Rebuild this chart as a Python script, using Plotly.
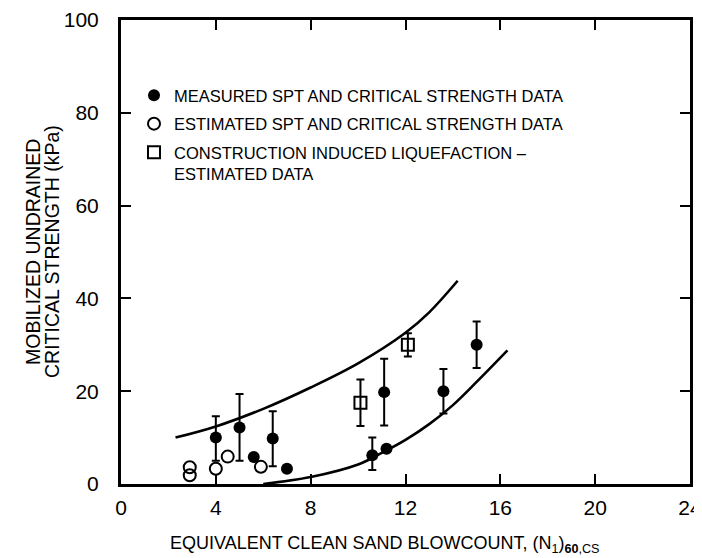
import plotly.graph_objects as go

# Measured SPT and critical strength data (filled circles)
meas_x = [4.0, 5.0, 5.6, 6.4, 7.0, 10.6, 11.2, 11.1, 13.6, 15.0]
meas_y = [10.0, 12.2, 5.8, 9.8, 3.3, 6.2, 7.6, 19.8, 20.0, 30.0]
meas_err_hi = [4.6, 7.2, 0, 5.9, 0, 3.8, 0, 7.2, 4.8, 5.0]
meas_err_lo = [5.0, 7.2, 0, 6.0, 0, 3.2, 0, 7.2, 4.8, 5.0]

# Estimated SPT and critical strength data (open circles)
est_x = [2.9, 2.9, 4.0, 4.5, 5.9]
est_y = [3.6, 1.9, 3.3, 5.9, 3.7]

# Construction induced liquefaction - estimated data (open squares)
con_x = [10.1, 12.1]
con_y = [17.5, 30.0]
con_err_hi = [5.0, 2.5]
con_err_lo = [5.0, 2.5]

# Bounding curves
upper_x = [2.3, 4.0, 6.0, 8.0, 10.0, 12.0, 13.0, 14.2]
upper_y = [10.0, 12.4, 16.2, 20.8, 26.0, 32.6, 37.0, 43.8]
lower_x = [6.0, 8.0, 10.0, 11.0, 12.0, 13.0, 14.0, 15.0, 16.3]
lower_y = [0.0, 1.5, 4.2, 6.7, 9.5, 12.9, 17.0, 22.0, 28.8]

x_ticks = [0, 4, 8, 12, 16, 20, 24]
y_ticks = [0, 20, 40, 60, 80, 100]

FONT = "Liberation Sans, Arial, sans-serif"

# plot area in page pixels (page body has an 8px margin)
PX0, PX1, PY0, PY1 = 121, 690, 20, 484
def px(x):
    return (x - PX0) / (PX1 - PX0)
def py(y):
    return (PY1 - y) / (PY1 - PY0)

fig = go.Figure()

fig.add_trace(go.Scatter(x=upper_x, y=upper_y, mode="lines",
                         line=dict(color="black", width=2.6, shape="spline"),
                         showlegend=False, hoverinfo="skip"))
fig.add_trace(go.Scatter(x=lower_x, y=lower_y, mode="lines",
                         line=dict(color="black", width=2.6, shape="spline"),
                         showlegend=False, hoverinfo="skip"))

fig.add_trace(go.Scatter(
    x=meas_x, y=meas_y, mode="markers",
    name="MEASURED SPT AND CRITICAL STRENGTH DATA",
    legendgroup="a",
    marker=dict(symbol="circle", size=12, color="black"),
    error_y=dict(type="data", symmetric=False, array=meas_err_hi,
                 arrayminus=meas_err_lo, color="black", thickness=2, width=4)))

fig.add_trace(go.Scatter(
    x=est_x, y=est_y, mode="markers",
    name="ESTIMATED SPT AND CRITICAL STRENGTH DATA",
    legendgroup="b",
    marker=dict(symbol="circle-open", size=12, color="black",
                line=dict(width=2, color="black"))))

fig.add_trace(go.Scatter(
    x=con_x, y=con_y, mode="markers",
    name="CONSTRUCTION INDUCED LIQUEFACTION \u2013<br>ESTIMATED DATA",
    legendgroup="c",
    marker=dict(symbol="square-open", size=12, color="black",
                line=dict(width=2, color="black")),
    error_y=dict(type="data", symmetric=False, array=con_err_hi,
                 arrayminus=con_err_lo, color="black", thickness=2, width=4)))

axis_common = dict(showline=True, linecolor="black", linewidth=3, mirror="ticks",
                   ticks="inside", ticklen=10, tickwidth=2, tickcolor="black",
                   showgrid=False, zeroline=False, automargin=False,
                   ticklabeloverflow="allow",
                   tickfont=dict(family=FONT, size=21, color="black"))

fig.update_xaxes(range=[0, 24], tickvals=x_ticks, ticklabelstandoff=3, **axis_common)
fig.update_yaxes(range=[0, 100], tickvals=y_ticks, ticklabelstandoff=15, **axis_common)

# y-axis title, two lines
fig.add_annotation(
    text="MOBILIZED UNDRAINED",
    xref="paper", yref="paper", x=px(33), y=py(252),
    xanchor="center", yanchor="middle",
    textangle=-90, showarrow=False,
    font=dict(family=FONT, size=19.5, color="black"))
fig.add_annotation(
    text="CRITICAL STRENGTH (kPa)",
    xref="paper", yref="paper", x=px(52), y=py(252),
    xanchor="center", yanchor="middle",
    textangle=-90, showarrow=False,
    font=dict(family=FONT, size=19.5, color="black"))

fig.add_annotation(
    text="EQUIVALENT CLEAN SAND BLOWCOUNT, (N<sub>1</sub>)<sub><b>60</b>,CS</sub>",
    xref="paper", yref="paper", x=px(168), y=py(544),
    xanchor="left", yanchor="middle",
    showarrow=False,
    font=dict(family=FONT, size=18, color="black"))

fig.update_layout(
    width=694, height=550,
    margin=dict(l=PX0 - 8, r=694 - (PX1 - 8), t=PY0 - 8, b=550 - (PY1 - 8)),
    paper_bgcolor="white", plot_bgcolor="white",
    font=dict(family=FONT, color="black"),
    legend=dict(x=px(134), y=py(78), xanchor="left", yanchor="top",
                bgcolor="rgba(0,0,0,0)", borderwidth=0,
                font=dict(family=FONT, size=16.5, color="black"),
                traceorder="grouped", tracegroupgap=4, valign="top"),
)

fig.write_html("out.html")
